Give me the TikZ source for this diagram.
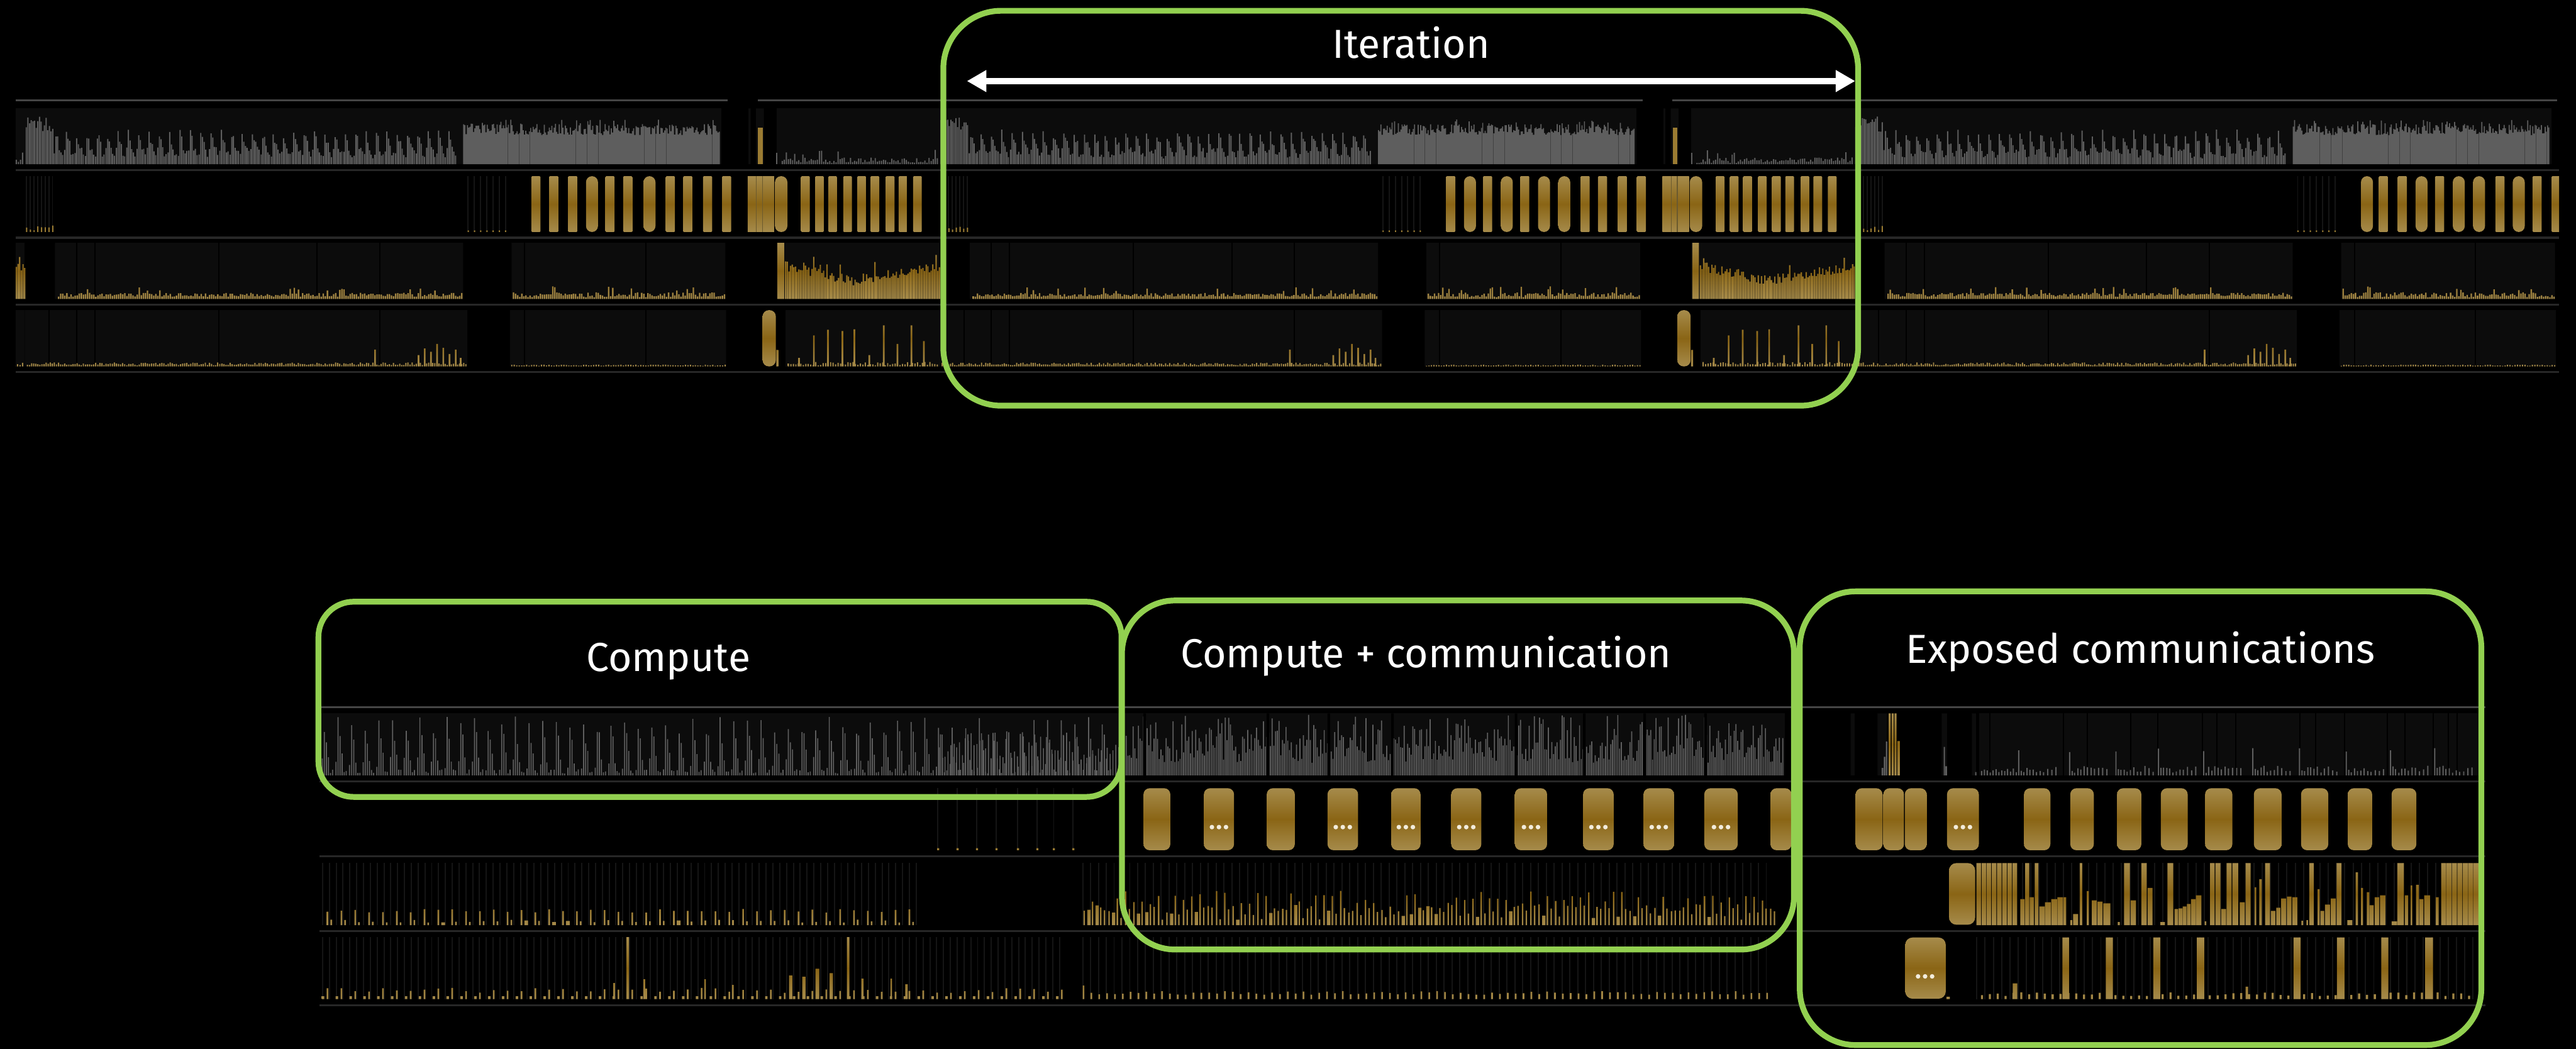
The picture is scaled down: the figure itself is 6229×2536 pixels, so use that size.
\documentclass[tikz,border=0pt]{standalone}
\usepackage{fontspec}
\setmainfont{Fira Sans}
\usetikzlibrary{arrows.meta}

\definecolor{nvgreen}{HTML}{92D050}
\definecolor{barGray}{HTML}{5E5E5E}
\definecolor{rowDark}{HTML}{0C0C0C}
\definecolor{sepGray}{HTML}{272727}
\definecolor{topGray}{HTML}{454545}
\definecolor{faint}{HTML}{151515}
\definecolor{goldA}{HTML}{A68B4B}
\definecolor{goldB}{HTML}{8A6515}
\definecolor{goldC}{HTML}{9A7B32}
\definecolor{goldD}{HTML}{6B5A2E}
\definecolor{dotWhite}{HTML}{F2ECDC}

\tikzset{
  goldgrad/.style={top color=goldA, bottom color=goldA, middle color=goldB},
  graybar/.style={fill=barGray},
  rowbox/.style={fill=rowDark},
  sep/.style={draw=sepGray, line width=1pt},
  topsep/.style={draw=topGray, line width=0.8pt},
  divider/.style={draw=black, line width=0.6pt},
  faintline/.style={draw=faint, line width=0.6pt},
  frame/.style={draw=nvgreen, line width=2.8pt},
  caption/.style={text=white, font=\fontsize{19.6}{24}\selectfont, inner sep=0pt, anchor=base},
  ddot/.style={fill=dotWhite},
}

% gold bars of one row: the rectangles #3 clip one vertical gradient from #1 to #2
\newcommand\goldbars[3]{%
  \begin{scope}
    \clip #3;
    \shade[goldgrad] (-3000,#1) rectangle (7000,#2);
  \end{scope}}

% first part of one training step (x origin #1), #2 = kernel starts / rounded flags
\newcommand\iterhead[2]{%
\begin{scope}[shift={(#1,0)}]
  \fill[black] (1700,236) rectangle (1772,250);
  % row 1: compute kernels
  \fill[rowbox] (0,262) rectangle (1685,397);
  \fill[rowbox] (1750,262) rectangle (1755,397) (1768,262) rectangle (1787,397);
  \fill[graybar] \foreach \x [evaluate=\x as \h using 135*(0.58+0.28*rnd)] in {2,6,...,66} {(\x,397) rectangle ++(3,-\h)};
  \fill[graybar] \foreach \g in {70,95,...,1040} {\foreach \o/\lo/\hi [evaluate=\lo as \h using 135*(\lo+(\hi-\lo)*rnd)] in {0/0.12/0.3,4/0.45/0.62,8/0.35/0.52,12/0.22/0.42,16/0.12/0.32,20/0.1/0.26} {(\g+\o,397) rectangle ++(3,-\h)}};
  \fill[graybar] \foreach \x [evaluate=\x as \h using 135*(rnd<0.12 ? 0.7+0.1*rnd : 0.52+0.2*rnd)] in {1060,1063,...,1680} {(\x,397) rectangle ++(2.6,-\h)};
  \fill[goldC] (1773,397) rectangle (1784,308);
  \fill[graybar] (1817,397) rectangle ++(3,-27);
  % row 2: communication kernels
  \draw[faintline] \foreach \x in {4,13,...,68} {(\x,426) -- (\x,561)} \foreach \x in {1072,1087,...,1170} {(\x,426) -- (\x,561)};
  \fill[goldC] \foreach \x [evaluate=\x as \h using 4+12*rnd] in {4,13,...,68} {(\x-1,561) rectangle ++(3,-\h)} \foreach \x in {1072,1087,...,1170} {(\x-1,561) rectangle ++(3,-4)};
  \foreach \a/\t in {#2} {
    \pgfmathsetmacro\pillw{\t>0 ? 29 : 22}
    \pgfmathsetmacro\pillr{\t>0 ? 2.9 : 0.4}
    \shade[goldgrad, rounded corners=\pillr pt] (\a,426) rectangle ++(\pillw,135);
  }
  \shade[goldgrad] (1748,426) rectangle (1812,561);
  \draw[goldD, line width=0.4pt] (1769,426) -- (1769,561) (1784,426) -- (1784,561);
  \shade[goldgrad, rounded corners=2.9pt] (1814,426) rectangle (1844,561);
  \foreach \a in {1877,1911,1943,1979,2013,2045,2082,2113,2148}
    \shade[goldgrad, rounded corners=0.4pt] (\a,426) rectangle ++(21,135);
  % row 3
  \fill[rowbox] (73,587) rectangle (1060,723) (1177,587) rectangle (1694,723);
  \draw[divider] \foreach \x in {125,169,469,707,858,1209,1502} {(\x,587) -- (\x,723)};
  \goldbars{587}{723}{\foreach \x [evaluate=\x as \h using 136*(rnd<0.08 ? 0.14+0.08*rnd : 0.04+0.07*rnd)] in {80,85,...,1055} {(\x,723) rectangle ++(3.5,-\h)} \foreach \x [evaluate=\x as \h using 136*(rnd<0.1 ? 0.15+0.08*rnd : 0.03+0.09*rnd)] in {1180,1185,...,1690} {(\x,723) rectangle ++(3.5,-\h)}}
  % row 4
  \fill[rowbox] (0,750) rectangle (1070,886) (1173,750) rectangle (1696,886);
  \draw[divider] \foreach \x in {59,125,169,469,858,1209,1502} {(\x,750) -- (\x,886)};
  \goldbars{750}{886}{\foreach \x [evaluate=\x as \h using 136*(0.02+0.05*rnd)] in {5,10,...,1066} {(\x,886) rectangle ++(3,-\h)} \foreach \x/\f in {845/0.3,950/0.2,965/0.32,980/0.26,995/0.4,1010/0.33,1025/0.22,1040/0.3,1052/0.15} {(\x,886) rectangle ++(4,-136*\f)} \foreach \x [evaluate=\x as \h using 136*(0.012+0.02*rnd)] in {1176,1182,...,1692} {(\x,886) rectangle ++(3,-\h)} (1817,886) rectangle ++(5,-40)}
  \shade[goldgrad, rounded corners=3pt] (1784,750) rectangle (1816,886);
\end{scope}}

% closing part of one training step (x origin #1)
\newcommand\itertail[1]{%
\begin{scope}[shift={(#1,0)}]
  \fill[rowbox] (1818,262) rectangle (2212,397);
  \fill[graybar] \foreach \x [evaluate=\x as \h using 135*(rnd<0.1 ? 0.16+0.1*rnd : 0.02+0.1*rnd)] in {1830,1835,...,2208} {(\x,397) rectangle ++(3,-\h)};
  \fill[rowbox] (1818,587) rectangle (2212,723);
  \goldbars{587}{723}{(1820,723) rectangle (1836,587) \foreach \x [evaluate=\x as \h using 136*(((\x<2000) ? (0.5-(\x-1838)*0.0016) : (0.24+(\x-2000)*0.0012))+0.18*rnd+(rnd<0.06 ? 0.2 : 0))] in {1838,1842,...,2210} {(\x,723) rectangle ++(3.3,-\h)}}
  \fill[rowbox] (1840,750) rectangle (2212,886);
  \goldbars{750}{886}{\foreach \x [evaluate=\x as \h using 136*(0.02+0.06*rnd)] in {1845,1851,...,2208} {(\x,886) rectangle ++(3,-\h)} \foreach \x/\f in {1870/0.15,1906/0.55,1940/0.65,1975/0.63,2004/0.66,2040/0.2,2075/0.73,2108/0.4,2142/0.73,2172/0.45} {(\x,886) rectangle ++(4,-136*\f)}}
\end{scope}}

\begin{document}
\begin{tikzpicture}[x=0.2pt,y=-0.2pt]
\path[use as bounding box, fill=black] (0,0) rectangle (6229,2536);

% ---------------- overview timeline ----------------
\begin{scope}
  \clip (38,230) rectangle (6188,910);
  \draw[topsep] (38,243) -- (6188,243);
  \foreach \y in {411,575,737,900} \draw[sep] (38,\y) -- (6188,\y);
  \pgfmathsetseed{11}
  \itertail{-2152}
  \itertail{60}
  \itertail{2272}
  \iterhead{60}{1225/0,1268/0,1314/0,1357/1,1404/0,1447/0,1496/1,1550/0,1592/0,1640/0,1686/0}
  \iterhead{2272}{1225/0,1268/1,1314/0,1357/1,1404/0,1447/1,1496/1,1550/0,1592/0,1640/0,1686/0}
  \iterhead{4484}{1225/1,1268/0,1314/0,1357/1,1404/0,1447/1,1496/1,1550/0,1592/1,1640/0,1686/0}
\end{scope}

% ---------------- detailed timeline ----------------
\begin{scope}
  \clip (772,1700) rectangle (6010,2440);
  \draw[topsep] (772,1710) -- (6010,1710);
  \foreach \y in {1890,2070,2251,2431} \draw[sep] (772,\y) -- (6010,\y);
  \pgfmathsetseed{7}
  % row 1: compute
  \fill[rowbox] (772,1725) rectangle (4316,1875);
  \fill[graybar] \foreach \g in {778,811,...,2690} {\foreach \o/\lo/\hi [evaluate=\lo as \h using 150*(\lo+(\hi-\lo)*rnd)] in {0/0.08/0.3,5/0.66/0.95,10/0.5/0.72,15/0.18/0.42,20/0.03/0.1,25/0.03/0.1} {(\g+\o,1875) rectangle ++(2.6,-\h)}};
  \fill[graybar] \foreach \x [evaluate=\x as \h using 150*(0.25+0.45*rnd)] in {2270,2277,...,2705} {(\x,1875) rectangle ++(2.4,-\h)};
  \fill[graybar] \foreach \x [evaluate=\x as \h using 150*(rnd<0.3 ? 0.6+0.38*rnd : 0.2+0.45*rnd)] in {2722,2726.2,...,4312} {(\x,1875) rectangle ++(2.6,-\h)};
  \fill[black] \foreach \x in {2765,3063,3210,3364,3663,3828,3974,4121} {(\x,1725) rectangle ++(6,150)};
  \fill[rowbox] (4475,1725) rectangle (4485,1875) (4540,1725) rectangle (4562,1875) (4695,1725) rectangle (4708,1875) (4768,1725) rectangle (4778,1875);
  \fill[graybar] (4550,1875) rectangle ++(4,-18) (4555,1875) rectangle ++(4,-45) (4560,1875) rectangle ++(4,-82) (4700,1875) rectangle ++(3,-69) (4704,1875) rectangle ++(4,-22) (4776,1875) rectangle ++(3,-8);
  \goldbars{1725}{1875}{(4567,1875) rectangle (4572,1725) (4574,1875) rectangle (4579,1725) (4581,1875) rectangle (4586,1725) (4588,1875) rectangle (4594,1792)}
  \fill[rowbox] (4785,1725) rectangle (6005,1875);
  \draw[divider] \foreach \x in {4812,4990,5047,5152,5218,5325,5360,5406,5562,5600,5669,5773,5816,5883,5920,5942} {(\x,1725) -- (\x,1875)};
  \fill[graybar] \foreach \x [evaluate=\x as \h using 150*(0.04+0.08*rnd)] in {4790,4797,...,4875} {(\x,1875) rectangle ++(3,-\h)};
  \fill[graybar] \foreach \g [evaluate=\g as \h using 150*(0.36+0.08*rnd)] in {4880,5003,5115,5218,5327,5446,5559,5672,5779,5886} {(\g,1875) rectangle ++(3,-\h) \foreach \o [evaluate=\o as \k using 150*(0.04+0.12*rnd)] in {6,12,20,27,35,43,52,60,70,80,90} {(\g+\o,1875) rectangle ++(3,-\k)}};
  % row 2: communication kernels
  \draw[faintline] \foreach \x in {2268,2315,2362,2409,2461,2508,2548,2595} {(\x,1905) -- (\x,2056)};
  \fill[goldC] \foreach \x in {2268,2315,2362,2409,2461,2508,2548,2595} {(\x-2,2056) rectangle ++(5,-5)};
  \foreach \a/\b/\d in {2765/2830/0,2911/2984/1,3063/3131/0,3210/3284/1,3364/3435/1,3509/3582/1,3663/3741/1,3828/3902/1,3974/4048/1,4121/4202/1,4281/4332/0,4487/4552/0,4554/4604/0,4606/4659/0,4708/4785/1,4894/4958/0,5006/5063/0,5119/5178/0,5225/5290/0,5332/5398/0,5450/5517/0,5564/5630/0,5677/5736/0,5783/5843/0} {
    \shade[goldgrad, rounded corners=3pt] (\a,1906) rectangle (\b,2056);
    \ifnum\d=1
      \fill[ddot] \foreach \k in {-17,0,17} {(\a/2+\b/2+\k,2000) circle[radius=1.1pt]};
    \fi
  }
  % row 3
  \draw[faintline] \foreach \x in {780,796.5,...,2230} {(\x,2086) -- (\x,2237)} \foreach \x in {2618,2637,...,4289} {(\x,2086) -- (\x,2237)} \foreach \x in {4890,4910,...,5995} {(\x,2086) -- (\x,2237)};
  \goldbars{2086}{2237}{\foreach \x [evaluate=\x as \ha using 151*(0.2+0.06*rnd), evaluate=\x as \hb using 151*(0.04+0.05*rnd), evaluate=\x as \wb using (rnd<0.15 ? 9 : 4)] in {790,823.5,...,2210} {(\x,2237) rectangle ++(4,-\ha) (\x+9,2237) rectangle ++(\wb,-\hb)} \foreach \x [evaluate=\x as \ha using 151*(0.2+0.35*rnd), evaluate=\x as \hb using 151*(0.08+0.25*rnd), evaluate=\x as \wb using (rnd<0.4 ? 8 : 3.5)] in {2620,2640,...,4280} {(\x,2237) rectangle ++(3.5,-\ha) (\x+9,2237) rectangle ++(\wb,-\hb)} \foreach \x in {4779,4791.5,...,4870} {(\x,2237) rectangle ++(11,-150)} \foreach \a/\b/\f in {4885/4897/0.42,4897/4908/1,4908/4919/0.45,4920/4930/1,4931/4945/0.30,4945/4960/0.37,4960/4975/0.42,4975/4989/0.45,4989/4997/0.45,5006/5012/0.08,5013/5026/0.18,5029/5036/1,5046/5052/0.55,5058/5071/0.4,5072/5085/0.38,5086/5104/0.35,5121/5127/0.05,5136/5151/1,5152/5166/0.4,5178/5192/1,5193/5206/0.6,5224/5236/0.05,5241/5256/1,5258/5268/0.26,5268/5278/0.27,5278/5288/0.3,5288/5298/0.34,5298/5310/0.42,5310/5324/0.48,5331/5336/0.06,5344/5356/1,5357/5370/1,5371/5384/0.26,5384/5397/1,5398/5413/1,5416/5429/0.37,5430/5443/1,5452/5457/0.61,5463/5470/0.74,5477/5490/1,5491/5503/0.23,5504/5515/0.28,5516/5529/0.43,5530/5542/0.46,5543/5556/0.45,5565/5570/0.07,5577/5582/0.08,5584/5596/1,5604/5610/0.58,5611/5621/0.23,5622/5635/0.33,5636/5649/0.43,5650/5663/1,5676/5689/0.08,5696/5703/0.85,5709/5715/0.6,5723/5730/0.53,5730/5741/0.32,5742/5754/0.45,5755/5769/0.48,5783/5797/0.06,5797/5814/1,5815/5824/0.48,5829/5834/0.64,5842/5850/0.65,5850/5861/0.42,5862/5877/0.48,5890/5898/0.45} {(\a,2237) rectangle (\b-1,2237-150*\f)} \foreach \x in {5903,5916,...,5990} {(\x,2237) rectangle ++(12,-150)}}
  \shade[goldgrad, rounded corners=3.5pt] (4713,2087) rectangle (4776,2236);
  % row 4
  \draw[faintline] \foreach \x in {780,796.5,...,2574} {(\x,2266) -- (\x,2416)} \foreach \x in {2618,2637,...,4289} {(\x,2266) -- (\x,2416)} \foreach \x in {4780,4800,...,5995} {(\x,2266) -- (\x,2416)};
  \goldbars{2266}{2416}{\foreach \x [evaluate=\x as \h using 151*(0.1+0.08*rnd)] in {778,811.5,...,2560} {(\x,2416) rectangle ++(6,-7) (\x+12,2416) rectangle ++(4,-\h)} \foreach \x/\f/\w in {1483/0.26/4,1515/1.0/6,1556/0.32/4,1703/0.32/4,1770/0.23/4,1908/0.38/8,1940/0.36/8,1972/0.49/9,2006/0.42/8,2048/1.0/6,2083/0.33/5,2153/0.33/4,2189/0.24/6} {(\x,2416) rectangle ++(\w,-150*\f)} (2618,2416) rectangle ++(4,-33) \foreach \x [evaluate=\x as \h using 151*(0.07+0.06*rnd)] in {2637,2656,...,4285} {(\x,2416) rectangle ++(4,-\h)} (4707,2416) rectangle ++(8,-6) \foreach \x [evaluate=\x as \h using 151*(0.05+0.06*rnd)] in {4790,4809,...,5985} {(\x,2416) rectangle ++(5,-\h)} (4867,2416) rectangle (4878,2378) (5430,2416) rectangle ++(6,-30) \foreach \a/\b in {4987/5003,5092/5109,5207/5224,5312/5330,5546/5563,5651/5669,5758/5775,5864/5883} {(\a,2416) rectangle (\b,2267)}}
  \shade[goldgrad, rounded corners=3.5pt] (4607,2267) rectangle (4705,2415);
  \fill[ddot] \foreach \k in {4638,4655,4672} {(\k,2361) circle[radius=1.1pt]};
\end{scope}

% ---------------- phase frames ----------------
\draw[frame, rounded corners=28pt] (2281,26) rectangle (4493,981);
\draw[frame, rounded corners=17pt] (770,1455) rectangle (2712,1927);
\draw[frame, rounded corners=25.6pt] (2713,1452) rectangle (4338,2296);
\draw[frame, rounded corners=27pt] (4352,1430) rectangle (6000,2527);

% ---------------- labels ----------------
\coordinate (iterstart) at (2338,196);
\coordinate (iterend) at (4486,196);
\draw[white, line width=3pt, {Triangle[length=9.4pt,width=10pt]}-{Triangle[length=9.4pt,width=10pt]}] (iterstart) -- (iterend);
\node[caption] (itertext) at (3412,140) {Iteration};
\node[caption] (computetext) at (1616,1623) {Compute};
\node[caption] (cctext) at (3448,1615) {Compute + communication};
\node[caption] (exptext) at (5176,1603) {Exposed communications};
\end{tikzpicture}
\end{document}
